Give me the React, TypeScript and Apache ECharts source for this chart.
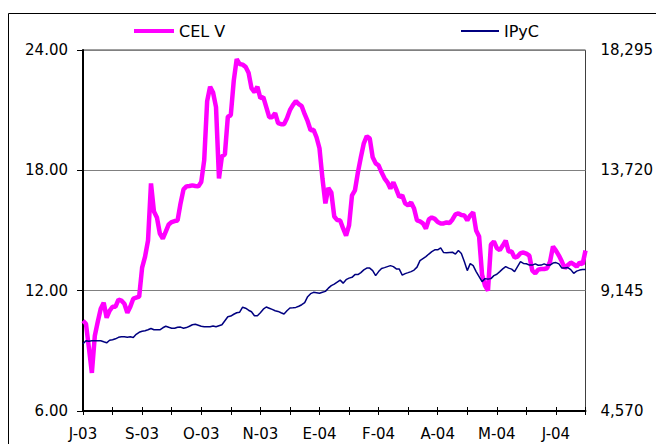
import React, { useEffect, useRef } from 'react';
import * as echarts from 'echarts';

const tickLabels = ['J-03', 'S-03', 'O-03', 'N-03', 'E-04', 'F-04', 'A-04', 'M-04', 'J-04'];

const celV = [
  10.5, 10.35, 9.15, 7.9, 9.75, 10.45, 11.1, 11.4, 10.65, 11.0,
  11.2, 11.2, 11.55, 11.5, 11.35, 10.9, 11.2, 11.6, 11.65, 11.7,
  13.15, 13.7, 14.5, 17.35, 15.95, 15.65, 14.85, 14.6, 14.95, 15.3,
  15.42, 15.47, 15.5, 16.35, 17.05, 17.2, 17.22, 17.25, 17.22, 17.2,
  17.42, 18.5, 21.45, 22.17, 21.88, 21.15, 17.6, 18.7, 18.8, 20.67,
  20.75, 22.47, 23.55, 23.3, 23.27, 23.16, 22.87, 22.1, 21.9, 22.17,
  21.6, 21.65, 21.15, 20.65, 20.65, 20.85, 20.35, 20.3, 20.3, 20.6,
  21.0, 21.25, 21.45, 21.3, 21.2, 20.8, 20.45, 20.0, 20.02, 19.65,
  19.1, 17.6, 16.35, 17.12, 16.9, 15.7, 15.52, 15.5, 15.1, 14.75,
  15.25, 16.75, 17.0, 17.9, 18.65, 19.35, 19.7, 19.6, 18.65, 18.35,
  18.25, 17.9, 17.6, 17.4, 17.1, 17.4, 17.05, 16.67, 16.75, 16.35,
  16.25, 16.4, 16.1, 15.5, 15.45, 15.35, 15.1, 15.55, 15.65, 15.58,
  15.42, 15.35, 15.35, 15.4, 15.37, 15.55, 15.8, 15.85, 15.77, 15.75,
  15.5, 15.75, 15.9, 15.0, 14.7, 12.8, 12.25, 12.0, 14.3, 14.45,
  14.12, 14.02, 14.25, 14.5, 13.95, 13.95, 13.65, 13.7, 13.87, 13.9,
  13.85, 13.75, 13.0, 12.87, 13.05, 13.08, 13.08, 13.12, 13.45, 14.2,
  14.0, 13.75, 13.45, 13.12, 13.27, 13.4, 13.32, 13.2, 13.4, 13.32,
  14.0,
];

const ipyc = [
  7124, 7239, 7220, 7239, 7239, 7239, 7239, 7200, 7162, 7258,
  7277, 7315, 7372, 7391, 7391, 7372, 7391, 7365, 7487, 7563,
  7601, 7620, 7658, 7708, 7658, 7658, 7658, 7734, 7792, 7753,
  7715, 7715, 7753, 7761, 7715, 7742, 7792, 7849, 7868, 7830,
  7792, 7773, 7773, 7773, 7799, 7773, 7811, 7849, 8001, 8154,
  8181, 8249, 8306, 8325, 8516, 8478, 8402, 8344, 8192, 8192,
  8306, 8440, 8524, 8478, 8432, 8383, 8356, 8306, 8257, 8383,
  8486, 8497, 8509, 8554, 8611, 8688, 8916, 9031, 9081, 9069,
  9050, 9088, 9118, 9240, 9336, 9393, 9469, 9545, 9431, 9564,
  9622, 9652, 9755, 9755, 9831, 9934, 10003, 10003, 9908, 9717,
  9870, 9991, 10022, 10060, 10098, 10060, 9972, 9965, 9736, 9793,
  9831, 9870, 9927, 10041, 10289, 10365, 10441, 10537, 10632, 10697,
  10697, 10773, 10594, 10583, 10594, 10605, 10537, 10670, 10556, 10251,
  9908, 10174, 10098, 9870, 9679, 9488, 9603, 9584, 9603, 9717,
  9770, 9870, 9972, 10060, 10003, 9965, 9870, 10060, 10251, 10182,
  10167, 10117, 10117, 10163, 10110, 10117, 10163, 10117, 10117, 10193,
  10212, 10163, 10003, 10003, 10022, 9946, 9805, 9889, 9927, 9946,
  9946,
];

const categories = celV.map((_, i) => String(i));

export default function App() {
  const ref = useRef<HTMLDivElement>(null);
  useEffect(() => {
    const chart = echarts.init(ref.current!, null, { renderer: 'svg' });
    const font = 'DejaVu Sans';
    const txt = { fontFamily: font, fontSize: 15, color: '#000' };
    chart.setOption({
      animation: false,
      backgroundColor: '#fff',
      textStyle: { fontFamily: font },
      graphic: [
        {
          type: 'rect',
          silent: true,
          z: -10,
          shape: { x: 8.5, y: 13.5, width: 700, height: 500 },
          style: { fill: 'none', stroke: '#000', lineWidth: 1 },
        },
      ],
      legend: [
        {
          data: ['CEL V'],
          left: 129,
          top: 18,
          itemWidth: 40,
          itemHeight: 4,
          icon: 'rect',
          textStyle: { fontFamily: font, fontSize: 16, color: '#000' },
        },
        {
          data: ['IPyC'],
          left: 456,
          top: 18,
          itemWidth: 38,
          itemHeight: 2,
          icon: 'rect',
          textStyle: { fontFamily: font, fontSize: 16, color: '#000' },
        },
      ],
      grid: {
        left: 83,
        right: 67,
        top: 50,
        bottom: 33,
        show: true,
        borderColor: '#404040',
        borderWidth: 1,
      },
      xAxis: [
        {
          type: 'category',
          data: categories,
          boundaryGap: false,
          position: 'bottom',
          axisLine: { lineStyle: { color: '#000', width: 2 } },
          axisTick: { inside: true, length: 4, interval: 9, lineStyle: { color: '#000' } },
          axisLabel: {
            ...txt,
            interval: 19,
            margin: 15,
            formatter: (_v: string, idx: number) => (idx % 20 === 0 ? tickLabels[idx / 20] : ''),
          },
          splitLine: { show: false },
        },
        {
          type: 'category',
          data: categories,
          boundaryGap: false,
          position: 'bottom',
          axisLine: { show: false },
          axisTick: { inside: false, length: 4, interval: 9, lineStyle: { color: '#000' } },
          axisLabel: { show: false },
          splitLine: { show: false },
        },
      ],
      yAxis: [
        {
          type: 'value',
          min: 6,
          max: 24,
          interval: 6,
          position: 'left',
          axisLine: { show: true, lineStyle: { color: '#000', width: 2 } },
          axisTick: { show: true, inside: false, length: 6, lineStyle: { color: '#000' } },
          axisLabel: { ...txt, margin: 15, formatter: (v: number) => v.toFixed(2) },
          splitLine: { show: true, lineStyle: { color: '#808080', width: 1 } },
        },
        {
          type: 'value',
          min: 4570,
          max: 18295,
          interval: 4575,
          position: 'right',
          axisLine: { show: false },
          axisTick: { show: false },
          axisLabel: {
            ...txt,
            margin: 15,
            formatter: (v: number) => Math.round(v).toLocaleString('en-US'),
          },
          splitLine: { show: false },
        },
      ],
      series: [
        {
          name: 'CEL V',
          type: 'line',
          data: celV,
          xAxisIndex: 0,
          yAxisIndex: 0,
          symbol: 'none',
          showSymbol: false,
          color: '#ff00ff',
          lineStyle: { color: '#ff00ff', width: 4.5 },
          z: 2,
        },
        {
          name: 'IPyC',
          type: 'line',
          data: ipyc,
          xAxisIndex: 0,
          yAxisIndex: 1,
          symbol: 'none',
          showSymbol: false,
          color: '#000080',
          lineStyle: { color: '#000080', width: 1.5 },
          z: 3,
        },
      ],
    });
    return () => chart.dispose();
  }, []);
  return (
    <div
      ref={ref}
      style={{ position: 'absolute', left: 0, top: 0, width: 656, height: 444 }}
    />
  );
}
